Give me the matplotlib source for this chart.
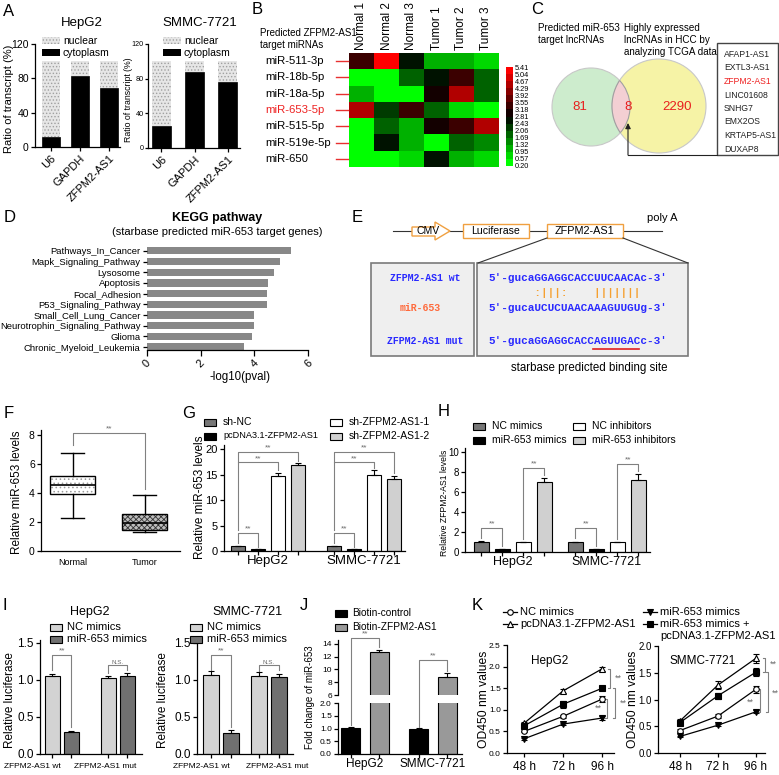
import matplotlib
matplotlib.use('Agg')
import matplotlib.pyplot as plt
import numpy as np
from matplotlib.patches import Rectangle, Circle, Polygon, PathPatch
from matplotlib.colors import LinearSegmentedColormap, BoundaryNorm, ListedColormap
import matplotlib.colorbar as mcolorbar

plt.rcParams['font.family'] = ['Liberation Sans', 'DejaVu Sans']
plt.rcParams['hatch.linewidth'] = 0.6

# ------------------------- DATA -------------------------
# A
a_cats = ['U6', 'GAPDH', 'ZFPM2-AS1']
a_hepg2_cyto = [12, 83, 69]
a_smmc_cyto = [25, 88, 76]
# B
b_rows = ['miR-511-3p', 'miR-18b-5p', 'miR-18a-5p', 'miR-653-5p', 'miR-515-5p', 'miR-519e-5p', 'miR-650']
b_cols = ['Normal 1', 'Normal 2', 'Normal 3', 'Tumor 1', 'Tumor 2', 'Tumor 3']
b_vals = [[3.4, 5.4, 2.5, 1.0, 1.3, 0.6],
          [0.5, 0.5, 1.7, 2.8, 3.4, 1.7],
          [1.2, 0.3, 0.5, 3.1, 4.6, 1.7],
          [4.4, 2.3, 3.2, 2.0, 0.9, 0.3],
          [0.5, 2.0, 1.3, 3.1, 3.3, 4.4],
          [0.5, 2.8, 1.0, 0.5, 1.9, 1.5],
          [0.5, 0.3, 0.6, 2.8, 1.2, 0.6]]
b_bounds = [0.20, 0.57, 0.95, 1.32, 1.69, 2.06, 2.43, 2.81, 3.18, 3.55, 3.92, 4.29, 4.67, 5.04, 5.41]
# C
c_counts = [81, 8, 2290]
c_list = ['AFAP1-AS1', 'EXTL3-AS1', 'ZFPM2-AS1', 'LINC01608', 'SNHG7', 'EMX2OS', 'KRTAP5-AS1', 'DUXAP8']
# D
d_terms = ['Pathways_In_Cancer', 'Mapk_Signaling_Pathway', 'Lysosome', 'Apoptosis', 'Focal_Adhesion',
           'P53_Signaling_Pathway', 'Small_Cell_Lung_Cancer', 'Neurotrophin_Signaling_Pathway', 'Glioma',
           'Chronic_Myeloid_Leukemia']
d_vals = [5.38, 4.95, 4.73, 4.52, 4.48, 4.48, 3.99, 3.98, 3.90, 3.61]
# F
f_groups = ['Normal', 'Tumor']
f_whislo = [2.3, 1.3]
f_q1 = [3.95, 1.45]
f_med = [4.55, 1.95]
f_q3 = [5.2, 2.55]
f_whishi = [6.75, 3.85]
# G
g_groups = ['HepG2', 'SMMC-7721']
g_series = ['sh-NC', 'pcDNA3.1-ZFPM2-AS1', 'sh-ZFPM2-AS1-1', 'sh-ZFPM2-AS1-2']
g_vals = [[1.0, 1.0], [0.3, 0.3], [14.8, 15.0], [16.9, 14.2]]
g_err = [[0.05, 0.05], [0.03, 0.03], [0.6, 0.8], [0.3, 0.6]]
# H
h_groups = ['HepG2', 'SMMC-7721']
h_series = ['NC mimics', 'miR-653 mimics', 'NC inhibitors', 'miR-653 inhibitors']
h_vals = [[1.05, 1.0], [0.3, 0.3], [1.0, 1.0], [7.0, 7.2]]
h_err = [[0.05, 0.03], [0.03, 0.03], [0.03, 0.03], [0.4, 0.6]]
# I
i_groups = ['ZFPM2-AS1 wt', 'ZFPM2-AS1 mut']
i_series = ['NC mimics', 'miR-653 mimics']
i_hepg2 = [[1.05, 1.03], [0.30, 1.05]]
i_hepg2_err = [[0.03, 0.02], [0.01, 0.05]]
i_smmc = [[1.07, 1.06], [0.29, 1.04]]
i_smmc_err = [[0.05, 0.05], [0.03, 0.04]]
# J
j_groups = ['HepG2', 'SMMC-7721']
j_series = ['Biotin-control', 'Biotin-ZFPM2-AS1']
j_vals = [[1.03, 1.0], [12.8, 8.8]]
j_err = [[0.03, 0.01], [0.3, 0.6]]
# K
k_times = ['48 h', '72 h', '96 h']
k_series = ['NC mimics', 'pcDNA3.1-ZFPM2-AS1', 'miR-653 mimics', 'miR-653 mimics +\npcDNA3.1-ZFPM2-AS1']
k_hepg2 = [[0.50, 0.85, 1.25], [0.69, 1.44, 1.95], [0.33, 0.67, 0.81], [0.63, 1.13, 1.50]]
k_hepg2_err = [[0.02, 0.03, 0.07], [0.03, 0.04, 0.05], [0.02, 0.02, 0.04], [0.04, 0.08, 0.05]]
k_smmc = [[0.42, 0.69, 1.19], [0.60, 1.27, 1.77], [0.31, 0.52, 0.77], [0.57, 1.07, 1.51]]
k_smmc_err = [[0.02, 0.03, 0.07], [0.04, 0.08, 0.08], [0.01, 0.02, 0.03], [0.05, 0.06, 0.08]]

# ------------------------- FIGURE -------------------------
W, H = 779, 775
fig = plt.figure(figsize=(W / 100, H / 100), dpi=100)


def pax(x0, y0, x1, y1):
    return fig.add_axes([x0 / W, 1 - y1 / H, (x1 - x0) / W, (y1 - y0) / H])


def gp(ax, fs=7, lw=0.9):
    for s in ['top', 'right']:
        ax.spines[s].set_visible(False)
    for s in ['left', 'bottom']:
        ax.spines[s].set_linewidth(lw)
    ax.tick_params(labelsize=fs, length=3, width=lw, pad=1.5)


BR = '#808080'
ST = '#6a6a6a'


def bracket(ax, x1, x2, y, l1, l2, txt='**', fs=6):
    ax.plot([x1, x1, x2, x2], [l1, y, y, l2], color=BR, lw=0.8, clip_on=False)
    ax.annotate(txt, ((x1 + x2) / 2, y), xytext=(0, 0.3), textcoords='offset points', ha='center',
                va='bottom', fontsize=fs, color=ST, annotation_clip=False)


def vbracket(ax, x, y1, y2, tick, txt, tx, ty, fs=6.5):
    ax.plot([x - tick, x, x, x - tick], [y1, y1, y2, y2], color=BR, lw=0.8, clip_on=False)
    ax.text(tx, ty, txt, ha='center', va='center', fontsize=fs, color=ST, clip_on=False)


def grouped_bars(ax, vals, errs, colors, offs, width, groups, fs_lab, pad=3):
    n = len(groups)
    xs_all = []
    for k in range(len(vals)):
        xs = np.arange(n) + offs[k]
        xs_all += list(xs)
        ax.bar(xs, vals[k], width, yerr=[np.zeros(n), errs[k]], color=colors[k], edgecolor='black', lw=0.8,
               error_kw=dict(elinewidth=0.8, capsize=2.2, capthick=0.8, ecolor='black'), zorder=2)
    ax.set_xticks(sorted(xs_all))
    ax.set_xticklabels([''] * len(xs_all))
    ax.set_xticks(np.arange(n), minor=True)
    ax.set_xticklabels(groups, minor=True)
    ax.tick_params(axis='x', which='minor', length=0, labelsize=fs_lab, pad=pad)


# ---------- Panel A ----------
def panelA(ax, cyto, width, fs_y, fs_x):
    x = np.arange(len(a_cats))
    nuc = [100 - c for c in cyto]
    ax.bar(x, cyto, width, color='black', edgecolor='black', lw=0.5)
    ax.bar(x, nuc, width, bottom=cyto, color='#e6e6e6', edgecolor='#a0a0a0', hatch='.....', lw=0.0)
    ax.set_ylim(0, 120)
    ax.set_yticks([0, 40, 80, 120])
    gp(ax, fs_y)
    ax.set_xticks(x)
    ax.set_xticklabels(a_cats, rotation=45, ha='right', rotation_mode='anchor', fontsize=fs_x)


axA1 = pax(35, 44, 120, 147)
panelA(axA1, a_hepg2_cyto, 0.65, 7.5, 8)
axA1.set_xlim(-0.55, 2.38)
axA2 = pax(148, 44, 240, 148)
panelA(axA2, a_smmc_cyto, 0.57, 5.2, 8)
axA2.tick_params(axis='y', length=2, pad=1)
axA2.set_xlim(-0.39, 2.36)

# ---------- Panel B ----------
axB = pax(349, 53, 499, 167)
gkr = LinearSegmentedColormap.from_list('gkr', ['#00ff00', '#000000', '#ff0000'])
cmapB = ListedColormap(gkr(np.linspace(0, 1, len(b_bounds) - 1)))
normB = BoundaryNorm(b_bounds, cmapB.N)
axB.imshow(np.array(b_vals), cmap=cmapB, norm=normB, aspect='auto', interpolation='nearest')
axB.set_xticks(np.arange(len(b_cols)))
axB.set_xticklabels(b_cols, rotation=90, fontsize=8.5)
axB.xaxis.tick_top()
axB.tick_params(axis='x', length=0, pad=2)
axB.set_yticks([])
for s in axB.spines.values():
    s.set_visible(False)

caxB = pax(506, 67, 513, 166)
cb = mcolorbar.ColorbarBase(caxB, cmap=cmapB, norm=normB, boundaries=b_bounds, ticks=b_bounds)
cb.outline.set_visible(False)
cb.set_ticklabels(['%.2f' % v for v in b_bounds])
caxB.tick_params(length=0, labelsize=5.3, pad=1)

# ---------- Panel D ----------
axD = pax(147, 245, 308, 350)
yD = np.arange(len(d_terms))
axD.barh(yD, d_vals, height=0.66, color='#888888')
axD.set_ylim(9.28, -0.56)
axD.set_xlim(0, 6)
gp(axD, 6.8)
axD.spines['left'].set_visible(False)
axD.set_yticks(yD)
axD.set_yticklabels(d_terms, fontsize=6.8)
axD.set_xticks([0, 2, 4, 6])
axD.set_xticklabels(['0', '2', '4', '6'], rotation=45, fontsize=8)
axD.tick_params(axis='x', length=4, pad=2)

# ---------- Panel F ----------
axF = pax(41, 430, 180, 551)
f_stats = [dict(label=f_groups[i], whislo=f_whislo[i], q1=f_q1[i], med=f_med[i], q3=f_q3[i],
                whishi=f_whishi[i], fliers=[]) for i in range(len(f_groups))]
bp = axF.bxp(f_stats, positions=[0, 1], widths=0.62, patch_artist=True, showfliers=False, capwidths=0.32,
             boxprops=dict(lw=1, edgecolor='black', facecolor='none'),
             medianprops=dict(color='black', lw=1.2), whiskerprops=dict(lw=1), capprops=dict(lw=1))
for box, (hh, fc, hc) in zip(bp['boxes'], [('....', '#ffffff', '#9a9a9a'), ('xxxxxx', '#bdbdbd', '#333333')]):
    pp = PathPatch(box.get_path(), transform=box.get_transform(), fc=fc, ec=hc, hatch=hh, lw=0,
                   zorder=box.get_zorder() - 0.5)
    axF.add_patch(pp)
axF.set_xlim(-0.44, 1.49)
axF.set_ylim(0, 8.34)
axF.set_yticks([0, 2, 4, 6, 8])
gp(axF, 7.5)
axF.tick_params(axis='x', labelsize=6.5, length=0, pad=5)
axF.plot([0, 0, 1, 1], [7.3, 8.1, 8.1, 4.3], color=BR, lw=0.8, clip_on=False)
axF.text(0.5, 8.15, '**', ha='center', va='bottom', fontsize=6, color=ST)

# ---------- Panel G ----------
axG = pax(224, 445, 405, 551)
offG = (np.arange(4) - 1.5) * 0.21
colG = ['#777777', '#000000', '#ffffff', '#d0d0d0']
grouped_bars(axG, g_vals, g_err, colG, offG, 0.146, g_groups, 9.5)
axG.set_xlim(-0.46, 1.43)
axG.set_ylim(0, 20.8)
axG.set_yticks([0, 5, 10, 15, 20])
gp(axG, 8)
for gi, (lo1, hi3, hi4) in enumerate([(1.6, 15.9, 17.6), (1.6, 16.3, 15.3)]):
    bracket(axG, gi + offG[0], gi + offG[1], 3.5, lo1, 0.8)
    bracket(axG, gi + offG[0], gi + offG[2], 17.4, 4.2, hi3)
    bracket(axG, gi + offG[0], gi + offG[3], 19.4, 17.4, hi4)

# ---------- Panel H ----------
axH = pax(465, 448, 650, 552)
offH = (np.arange(4) - 1.5) * 0.223
colH = ['#777777', '#000000', '#ffffff', '#d0d0d0']
grouped_bars(axH, h_vals, h_err, colH, offH, 0.16, h_groups, 9)
axH.set_xlim(-0.51, 1.46)
axH.set_ylim(0, 10.4)
axH.set_yticks([0, 2, 4, 6, 8, 10])
gp(axH, 7)
for gi, top in enumerate([8.4, 8.8]):
    bracket(axH, gi + offH[0], gi + offH[1], 2.4, 1.4, 0.6)
    bracket(axH, gi + offH[2], gi + offH[3], top, 1.3, top - 0.7)

# ---------- Panel I ----------
colI = ['#d3d3d3', '#707070']
axI1 = pax(40, 640, 142, 754)
grouped_bars(axI1, i_hepg2, i_hepg2_err, colI, [-0.17, 0.17], 0.27, ['', ''], 6)
axI1.set_xlim(-0.39, 1.43)
axI2 = pax(197, 640, 293, 754)
grouped_bars(axI2, i_smmc, i_smmc_err, colI, [-0.2, 0.2], 0.33, ['', ''], 6)
axI2.set_xlim(-0.5, 1.5)
for ax, offs in [(axI1, 0.17), (axI2, 0.2)]:
    ax.set_ylim(0, 1.54)
    ax.set_yticks([0, 0.5, 1.0, 1.5])
    ax.set_yticklabels(['0.0', '0.5', '1.0', '1.5'])
    gp(ax, 8.5)
    bracket(ax, -offs, offs, 1.34, 1.13, 0.36)
    bracket(ax, 1 - offs, 1 + offs, 1.2, 1.1, 1.13, txt='N.S.', fs=4.5)

# ---------- Panel J ----------
colJ = ['#000000', '#999999']
axJl = pax(338, 703, 462, 754)
axJu = pax(338, 640, 462, 695)
grouped_bars(axJl, j_vals, j_err, colJ, [-0.21, 0.21], 0.28, j_groups, 8.5)
grouped_bars(axJu, j_vals, j_err, colJ, [-0.21, 0.21], 0.28, ['', ''], 8.5)
for ax in (axJl, axJu):
    ax.set_xlim(-0.4, 1.43)
    gp(ax, 6)
axJl.set_ylim(0, 2.0)
axJl.set_yticks([0, 0.5, 1.0, 1.5, 2.0])
axJl.set_yticklabels(['0.0', '0.5', '1.0', '1.5', '2.0'])
axJu.set_ylim(6, 14.6)
axJu.set_yticks([6, 8, 10, 12, 14])
axJu.spines['bottom'].set_visible(False)
axJu.tick_params(axis='x', which='both', length=0, labelbottom=False)
bracket(axJu, -0.21, 0.21, 14.9, 1.3, 13.5)
bracket(axJu, 0.79, 1.21, 11.5, 1.0, 9.8)

# ---------- Panel K ----------
k_styles = [dict(marker='o', mfc='white'), dict(marker='^', mfc='white'),
            dict(marker='v', mfc='black'), dict(marker='s', mfc='black')]


def panelK(ax, vals, errs, fs_y):
    x = np.arange(len(k_times))
    for v, e, st in zip(vals, errs, k_styles):
        ax.errorbar(x, v, yerr=e, color='black', lw=0.9, ms=4, mec='black', mew=0.8, capsize=2,
                    elinewidth=0.8, capthick=0.8, **st)
    ax.set_xticks(x)
    ax.set_xticklabels(k_times)
    gp(ax, fs_y)
    ax.tick_params(axis='x', labelsize=8.5, pad=3)


axK1 = pax(507, 645, 614, 753)
panelK(axK1, k_hepg2, k_hepg2_err, 6)
axK1.set_xlim(-0.44, 2.3)
axK1.set_ylim(0, 2.5)
axK1.set_yticks([0, 0.5, 1.0, 1.5, 2.0, 2.5])
axK1.set_yticklabels(['0.0', '0.5', '1.0', '1.5', '2.0', '2.5'])
vbracket(axK1, 2.2, 1.95, 1.50, 0.05, '**', 2.42, 1.74)
vbracket(axK1, 2.32, 1.50, 0.81, 0.05, '**', 2.55, 1.16)
vbracket(axK1, 2.12, 1.25, 0.81, 0.05, '**', 1.9, 1.03)

axK2 = pax(658, 646, 765, 753)
panelK(axK2, k_smmc, k_smmc_err, 7)
axK2.set_xlim(-0.58, 2.24)
axK2.set_ylim(0, 2.0)
axK2.set_yticks([0, 0.5, 1.0, 1.5, 2.0])
axK2.set_yticklabels(['0.0', '0.5', '1.0', '1.5', '2.0'])
vbracket(axK2, 2.24, 1.77, 1.51, 0.05, '**', 2.45, 1.66)
vbracket(axK2, 2.32, 1.51, 0.77, 0.05, '**', 2.52, 1.12)
vbracket(axK2, 2.1, 1.19, 0.77, 0.05, '**', 1.85, 0.95)

# ------------------------- OVERLAY (texts, diagrams) -------------------------
ov = fig.add_axes([0, 0, 1, 1])
ov.set_xlim(0, W)
ov.set_ylim(H, 0)
ov.axis('off')


def T(x, y, s, fs=8, **kw):
    kw.setdefault('va', 'center')
    ov.text(x, y, s, fontsize=fs, **kw)


# panel letters
for lab, x, y in [('A', 3, 12), ('B', 252, 10), ('C', 531, 9), ('D', 4, 217), ('E', 352, 217),
                  ('F', 4, 413), ('G', 182, 413), ('H', 438, 412), ('I', 3, 605), ('J', 300, 605),
                  ('K', 472, 605)]:
    T(x, y, lab, fs=12)

# A titles, legends, ylabels
T(82, 23, 'HepG2', fs=9.5, ha='center')
T(200, 23, 'SMMC-7721', fs=9.5, ha='center')
T(9, 99, 'Ratio of transcript (%)', fs=8, ha='center', rotation=90)
T(129, 100, 'Ratio of transcript (%)', fs=6.3, ha='center', rotation=90)
for x0, xt in [(42, 63), (163, 184)]:
    ov.add_patch(Rectangle((x0, 37), 18, 7, fc='#e6e6e6', ec='#a0a0a0', hatch='.....', lw=0))
    T(xt, 40.5, 'nuclear', fs=7.5)
    ov.add_patch(Rectangle((x0, 49), 18, 7, fc='black', ec='black', lw=0))
    T(xt, 52.5, 'cytoplasm', fs=7.5)

# B texts
T(260, 33, 'Predicted ZFPM2-AS1', fs=7)
T(260, 45, 'target miRNAs', fs=7)
cell_h = (167 - 53) / len(b_rows)
for i, r in enumerate(b_rows):
    yy = 53 + (i + 0.5) * cell_h
    T(265, yy, r, fs=8.2, color='#ee2222' if '653' in r else 'black')
    ov.plot([336, 348], [yy, yy], color='#e83030', lw=1)

# C venn
gC = Circle((591, 107), 39, fc='#cdeccd', ec='#c8c8c8', lw=0.8)
yC = Circle((659, 106), 47, fc='#f6f3a6', ec='#c8c8c8', lw=0.8)
ov.add_patch(gC)
ov.add_patch(yC)
lens = Circle((591, 107), 39, fc='#f3cfd3', ec='#a0a0a0', lw=0.8)
ov.add_patch(lens)
lens.set_clip_path(yC)
arc2 = Circle((659, 106), 47, fc='none', ec='#a0a0a0', lw=0.8)
ov.add_patch(arc2)
arc2.set_clip_path(gC)
for (x, y), n in zip([(580, 107), (628, 107), (677, 107)], c_counts):
    T(x, y, str(n), fs=9.5, ha='center', color='#e8201e')
T(538, 28, 'Predicted miR-653', fs=7.1)
T(538, 40, 'target lncRNAs', fs=7.1)
T(624, 28, 'Highly expressed', fs=7.1)
T(624, 40, 'lncRNAs in HCC by', fs=7.1)
T(624, 52, 'analyzing TCGA data', fs=7.1)
ov.add_patch(Rectangle((717, 43), 61, 112, fc='white', ec='#444444', lw=1))
for i, s in enumerate(c_list):
    T(724, 54.5 + i * 13.5, s, fs=6.2, color='#ee2222' if s == 'ZFPM2-AS1' else '#222222')
ov.plot([717, 628], [155, 155], color='#222222', lw=0.8)
ov.annotate('', xy=(628, 123), xytext=(628, 155),
            arrowprops=dict(arrowstyle='-|>', color='#222222', lw=0.8, mutation_scale=8, shrinkA=0, shrinkB=0))

# D texts
T(217, 218, 'KEGG pathway', fs=9, ha='center', weight='bold')
T(217, 232, '(starbase predicted miR-653 target genes)', fs=8, ha='center')
T(240, 377, '-log10(pval)', fs=8.3, ha='center')

# E diagram
OR = '#f0a040'
ov.plot([393, 662], [231, 231], color='#333333', lw=0.8, zorder=1)
ov.add_patch(Polygon([(412, 227), (435, 227), (435, 222), (450, 231), (435, 240), (435, 236), (412, 236)],
                     closed=True, fc='white', ec=OR, lw=1, zorder=2))
T(428, 231, 'CMV', fs=7.5, ha='center', zorder=3)
ov.add_patch(Rectangle((463, 224), 66, 14, fc='white', ec=OR, lw=1, zorder=2))
T(496, 231, 'Luciferase', fs=7.6, ha='center', zorder=3)
ov.add_patch(Rectangle((547, 224), 76, 14, fc='white', ec=OR, lw=1, zorder=2))
T(585, 231, 'ZFPM2-AS1', fs=7.8, ha='center', zorder=3)
T(647, 218, 'poly A', fs=8)
ov.plot([547, 478], [238, 263], color='#333333', lw=0.8)
ov.plot([623, 688], [238, 263], color='#333333', lw=0.8)
ov.add_patch(Rectangle((371, 263), 103, 93, fc='#efefef', ec='#7a7a7a', lw=1.2))
ov.add_patch(Rectangle((477, 263), 211, 93, fc='#efefef', ec='#7a7a7a', lw=1.2))
BL = '#2a2aff'
mono = dict(family='Liberation Mono', weight='bold')
T(425, 278, 'ZFPM2-AS1 wt', fs=7.1, ha='center', color=BL, **mono)
T(420, 308, 'miR-653', fs=7.1, ha='center', color='#ff6a3c', **mono)
T(425, 341, 'ZFPM2-AS1 mut', fs=7.1, ha='center', color=BL, **mono)
seq_fs = 7.9
cw = 0.6 * seq_fs * 100 / 72
T(488, 278, "5'-gucaGGAGGCACCUUCAACAc-3'", fs=seq_fs, color=BL, **mono)
T(488, 293, "       :|||:    |||||||", fs=seq_fs, color='#f5a030', **mono)
T(488, 308, "5'-gucaUCUCUAACAAAGUUGUg-3'", fs=seq_fs, color=BL, **mono)
T(488, 341, "5'-gucaGGAGGCACCAGUUGACc-3'", fs=seq_fs, color=BL, **mono)
ov.plot([488 + 16 * cw, 488 + 23 * cw], [349, 349], color='#e02020', lw=1.2)
T(589, 368, 'starbase predicted binding site', fs=8.3, ha='center')

# F/G/H ylabels & legends
T(17, 492, 'Relative miR-653 levels', fs=8.5, ha='center', rotation=90)
T(200, 497, 'Relative miR-653 levels', fs=8.5, ha='center', rotation=90)
T(445, 503, 'Relative ZFPM2-AS1 levels', fs=6.2, ha='center', rotation=90)
for (x0, y0), col, s, fs in zip([(204, 422), (204, 436), (330, 422), (330, 436)], colG, g_series,
                                [7.5, 6.6, 7.5, 7.5]):
    ov.add_patch(Rectangle((x0, y0 - 3.5), 12, 7, fc=col, ec='black', lw=0.8))
    T(x0 + 19, y0, s, fs=fs)
for (x0, y0), col, s in zip([(473, 426), (473, 440), (573, 426), (573, 440)], colH, h_series):
    ov.add_patch(Rectangle((x0, y0 - 3.5), 12, 7, fc=col, ec='black', lw=0.8))
    T(x0 + 19, y0, s, fs=7.5)

# I texts
T(90, 612, 'HepG2', fs=9, ha='center')
T(247, 612, 'SMMC-7721', fs=9, ha='center')
for x0 in (50, 190):
    for y0, col, s in zip([627, 639], colI, i_series):
        ov.add_patch(Rectangle((x0, y0 - 3.5), 12, 7, fc=col, ec='black', lw=0.8))
        T(x0 + 17, y0, s, fs=8)
T(10, 700, 'Relative luciferase', fs=8.5, ha='center', rotation=90)
T(163, 700, 'Relative luciferase', fs=8.5, ha='center', rotation=90)
for x, s in zip([32, 105, 201, 277], i_groups * 2):
    T(x, 767, s, fs=6, ha='center')

# J texts
for y0, col, s in zip([613, 627], colJ, j_series):
    ov.add_patch(Rectangle((335, y0 - 3.5), 12, 7, fc=col, ec='black', lw=0.8))
    T(352, y0, s, fs=7.3)
T(310, 697, 'Fold change of miR-653', fs=7, ha='center', rotation=90)

# K texts
T(550, 661, 'HepG2', fs=8.5, ha='center')
T(703, 661, 'SMMC-7721', fs=8.5, ha='center')
T(484, 699, 'OD450 nm values', fs=8.7, ha='center', rotation=90)
T(633, 699, 'OD450 nm values', fs=8.7, ha='center', rotation=90)
for (x0, y0), st, s in zip([(503, 612), (503, 624), (643, 612), (643, 624)], k_styles, k_series):
    ov.plot([x0, x0 + 14], [y0, y0], color='black', lw=0.9)
    ov.plot([x0 + 7], [y0], color='black', ms=4, mec='black', mew=0.8, ls='none', **st)
    if '\n' in s:
        a, b = s.split('\n')
        T(x0 + 17, y0, a, fs=8)
        T(x0 + 17, y0 + 12, b, fs=8)
    else:
        T(x0 + 17, y0, s, fs=8)

fig.savefig('out.png', dpi=100)
